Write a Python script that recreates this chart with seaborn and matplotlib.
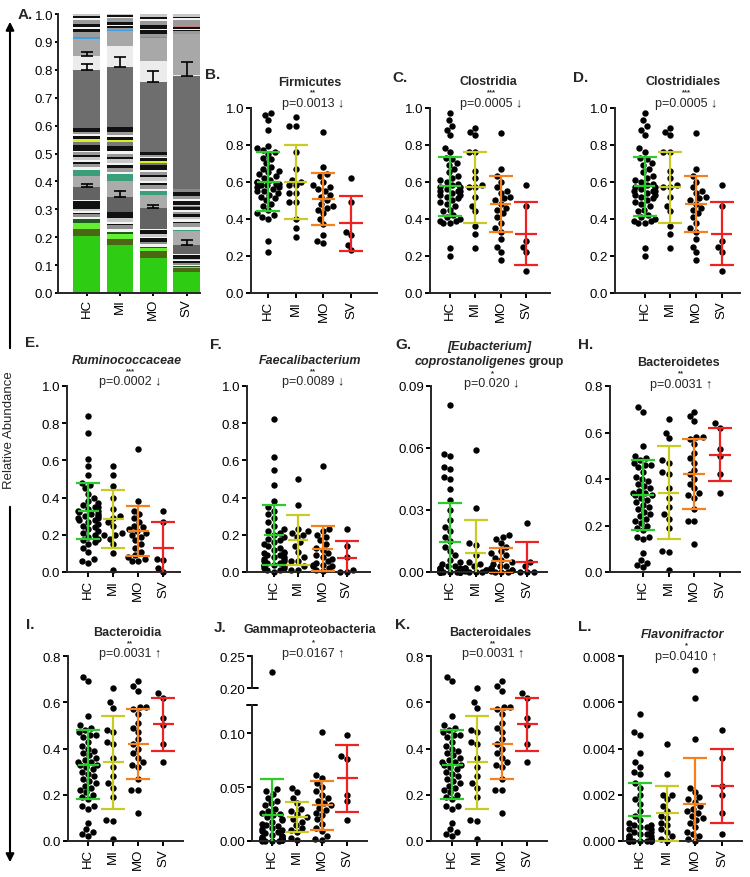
import matplotlib
matplotlib.use("Agg")
import matplotlib.pyplot as plt
import matplotlib.transforms as mtrans
from matplotlib.patches import FancyArrowPatch
from matplotlib.ticker import FormatStrFormatter
import numpy as np
import pandas as pd
import seaborn as sns

# ---------------- data ----------------
GROUPS = ["HC", "MI", "MO", "SV"]

# Panel A: stacked mean relative abundance (taxa bottom -> top)
A_COLORS = ["#2fcc14", "#4d6614", "#66ee33", "#1e5a1e",
            "#f4f4f4", "#8f8f8f", "#111111", "#f4f4f4", "#c8c8c8", "#111111", "#f4f4f4",
            "#636363", "#ababab", "#3a9e78",
            "#f4f4f4", "#9a9a9a", "#111111", "#f4f4f4", "#c8c8c8", "#111111", "#9a9a9a",
            "#f4f4f4", "#111111", "#7a7a7a",
            "#d8f022",
            "#111111", "#f4f4f4", "#9a9a9a", "#111111", "#8a8a8a",
            "#6e6e6e", "#ececec", "#a8a8a8", "#3d9ee0",
            "#9a9a9a", "#111111", "#f4f4f4", "#111111", "#c08080", "#9a9a9a",
            "#f4f4f4", "#111111", "#c8c8c8"]
A_HC = [0.203, 0.025, 0.024, 0.013,
        0.008, 0.010, 0.004, 0.006, 0.007, 0.030, 0.005,
        0.045, 0.040, 0.020,
        0.010, 0.012, 0.008, 0.006, 0.010, 0.010, 0.008, 0.006, 0.022, 0.008,
        0.012,
        0.012, 0.006, 0.006, 0.014, 0.000,
        0.210, 0.050, 0.060, 0.008,
        0.018, 0.012, 0.005, 0.010, 0.002, 0.015, 0.006, 0.006, 0.008]
A_MI = [0.172, 0.023, 0.015, 0.010,
        0.010, 0.012, 0.006, 0.008, 0.014, 0.020, 0.000,
        0.055, 0.055, 0.025,
        0.008, 0.015, 0.010, 0.008, 0.014, 0.008, 0.012, 0.008, 0.020, 0.012,
        0.010,
        0.010, 0.008, 0.010, 0.017, 0.000,
        0.215, 0.075, 0.055, 0.004,
        0.005, 0.008, 0.004, 0.012, 0.000, 0.012, 0.005, 0.005, 0.005]
A_MO = [0.125, 0.025, 0.010, 0.006,
        0.008, 0.010, 0.012, 0.006, 0.008, 0.015, 0.006,
        0.075, 0.045, 0.015,
        0.008, 0.014, 0.008, 0.006, 0.012, 0.010, 0.010, 0.006, 0.018, 0.008,
        0.008,
        0.010, 0.004, 0.006, 0.012, 0.000,
        0.249, 0.075, 0.085, 0.004,
        0.008, 0.015, 0.005, 0.012, 0.000, 0.015, 0.008, 0.008, 0.010]
A_SV = [0.075, 0.013, 0.006, 0.004,
        0.004, 0.006, 0.005, 0.004, 0.006, 0.012, 0.003,
        0.035, 0.050, 0.002,
        0.010, 0.015, 0.006, 0.008, 0.010, 0.008, 0.010, 0.006, 0.010, 0.005,
        0.003,
        0.012, 0.008, 0.012, 0.015, 0.010,
        0.405, 0.005, 0.147, 0.000,
        0.008, 0.006, 0.004, 0.004, 0.006, 0.020, 0.006, 0.006, 0.010]
A_ERR_TAXA = [11, 30, 31]
A_ERR_HC = [0.010, 0.020, 0.015]
A_ERR_MI = [0.020, 0.035, 0.000]
A_ERR_MO = [0.010, 0.040, 0.000]
A_ERR_SV = [0.017, 0.050, 0.000]

# B Firmicutes
FIRM_HC = [0.97, 0.96, 0.93, 0.88, 0.79, 0.78, 0.77, 0.76, 0.75, 0.73, 0.72, 0.70, 0.68, 0.67, 0.66,
           0.65, 0.64, 0.63, 0.62, 0.61, 0.60, 0.60, 0.59, 0.59, 0.58, 0.58, 0.57, 0.57, 0.56, 0.55,
           0.55, 0.54, 0.53, 0.52, 0.51, 0.50, 0.48, 0.47, 0.45, 0.43, 0.42, 0.41, 0.40, 0.28, 0.22]
FIRM_MI = [0.95, 0.90, 0.90, 0.76, 0.67, 0.61, 0.60, 0.58, 0.58, 0.54, 0.54, 0.49, 0.49, 0.40, 0.35, 0.30]
FIRM_MO = [0.87, 0.68, 0.64, 0.63, 0.60, 0.58, 0.57, 0.56, 0.55, 0.53, 0.52, 0.50, 0.48, 0.47, 0.46,
           0.45, 0.43, 0.40, 0.37, 0.31, 0.28, 0.27]
FIRM_SV = [0.62, 0.49, 0.33, 0.31, 0.26, 0.23]
FIRM_MEAN = [0.60, 0.60, 0.505, 0.375]
FIRM_SD = [0.16, 0.20, 0.14, 0.15]

# C Clostridia / D Clostridiales
CLOS_HC = [0.97, 0.93, 0.90, 0.88, 0.85, 0.78, 0.76, 0.73, 0.72, 0.70, 0.69, 0.67, 0.65, 0.63, 0.62,
           0.61, 0.60, 0.59, 0.58, 0.57, 0.57, 0.56, 0.55, 0.55, 0.54, 0.53, 0.52, 0.51, 0.50, 0.49,
           0.48, 0.47, 0.45, 0.44, 0.42, 0.41, 0.40, 0.39, 0.39, 0.38, 0.38, 0.24, 0.20, 0.55, 0.53]
CLOS_MI = [0.89, 0.87, 0.85, 0.76, 0.76, 0.66, 0.62, 0.58, 0.57, 0.57, 0.52, 0.47, 0.44, 0.36, 0.32, 0.24]
CLOS_MO = [0.86, 0.67, 0.63, 0.60, 0.57, 0.55, 0.54, 0.52, 0.51, 0.50, 0.48, 0.46, 0.45, 0.43, 0.41,
           0.38, 0.35, 0.33, 0.29, 0.25, 0.22, 0.18]
CLOS_SV = [0.58, 0.47, 0.28, 0.25, 0.22, 0.12]
CLOS_MEAN = [0.575, 0.57, 0.48, 0.32]
CLOS_SD = [0.16, 0.19, 0.15, 0.17]

# E Ruminococcaceae
RUMI_HC = [0.84, 0.75, 0.61, 0.57, 0.52, 0.48, 0.47, 0.45, 0.42, 0.40, 0.38, 0.37, 0.36, 0.35, 0.34,
           0.33, 0.33, 0.32, 0.31, 0.31, 0.30, 0.30, 0.29, 0.28, 0.28, 0.27, 0.26, 0.25, 0.24, 0.23,
           0.22, 0.21, 0.20, 0.19, 0.18, 0.17, 0.16, 0.15, 0.13, 0.11, 0.07, 0.06, 0.05, 0.35, 0.29]
RUMI_MI = [0.57, 0.52, 0.46, 0.40, 0.34, 0.30, 0.29, 0.27, 0.25, 0.21, 0.20, 0.20, 0.18, 0.15, 0.10, 0.01]
RUMI_MO = [0.66, 0.38, 0.33, 0.31, 0.29, 0.27, 0.25, 0.24, 0.23, 0.22, 0.21, 0.20, 0.19, 0.17, 0.15,
           0.13, 0.11, 0.09, 0.08, 0.07, 0.06, 0.06]
RUMI_SV = [0.33, 0.27, 0.07, 0.065, 0.02, 0.0]
RUMI_MEAN = [0.33, 0.285, 0.22, 0.13]
RUMI_SD = [0.15, 0.155, 0.135, 0.14]

# F Faecalibacterium
FAEC_HC = [0.82, 0.62, 0.55, 0.47, 0.38, 0.35, 0.33, 0.31, 0.29, 0.27, 0.25, 0.23, 0.22, 0.21, 0.20,
           0.19, 0.18, 0.17, 0.16, 0.15, 0.14, 0.13, 0.12, 0.11, 0.10, 0.10, 0.09, 0.09, 0.08, 0.08,
           0.07, 0.07, 0.06, 0.06, 0.05, 0.05, 0.04, 0.04, 0.03, 0.03, 0.02, 0.02, 0.01, 0.01, 0.0]
FAEC_MI = [0.50, 0.36, 0.23, 0.22, 0.21, 0.20, 0.19, 0.16, 0.14, 0.11, 0.08, 0.06, 0.06, 0.03, 0.01, 0.01]
FAEC_MO = [0.57, 0.23, 0.22, 0.20, 0.19, 0.17, 0.15, 0.13, 0.12, 0.10, 0.09, 0.08, 0.07, 0.06, 0.05,
           0.04, 0.04, 0.03, 0.03, 0.02, 0.01, 0.005]
FAEC_SV = [0.23, 0.14, 0.08, 0.01, 0.0, 0.0]
FAEC_MEAN = [0.20, 0.17, 0.125, 0.075]
FAEC_SD = [0.16, 0.135, 0.12, 0.09]

# G [Eubacterium] coprostanoligenes group
EUBA_HC = [0.081, 0.057, 0.056, 0.051, 0.050, 0.046, 0.045, 0.040, 0.035, 0.030, 0.025, 0.022, 0.020,
           0.017, 0.015, 0.012, 0.010, 0.008, 0.006, 0.005, 0.004, 0.003, 0.003, 0.002, 0.002, 0.002,
           0.001, 0.001, 0.001, 0.001, 0.0005, 0.0005, 0.0005, 0, 0, 0, 0, 0, 0, 0, 0, 0, 0, 0, 0]
EUBA_MI = [0.059, 0.031, 0.014, 0.013, 0.008, 0.005, 0.004, 0.003, 0.002, 0.002, 0.001, 0.001, 0.0005,
           0, 0, 0]
EUBA_MO = [0.018, 0.017, 0.016, 0.014, 0.012, 0.010, 0.009, 0.008, 0.007, 0.006, 0.005, 0.004, 0.003,
           0.003, 0.002, 0.002, 0.001, 0.001, 0.0005, 0, 0, 0]
EUBA_SV = [0.0235, 0.005, 0.003, 0.0, 0.0, 0.0]
EUBA_MEAN = [0.0145, 0.009, 0.0055, 0.005]
EUBA_SD = [0.019, 0.016, 0.006, 0.0095]

# H Bacteroidetes / I Bacteroidia / K Bacteroidales
BACT_HC = [0.71, 0.69, 0.54, 0.50, 0.49, 0.48, 0.47, 0.46, 0.46, 0.45, 0.43, 0.41, 0.40, 0.39, 0.38,
           0.37, 0.36, 0.35, 0.34, 0.34, 0.33, 0.33, 0.32, 0.31, 0.30, 0.29, 0.28, 0.27, 0.25, 0.24,
           0.23, 0.22, 0.21, 0.20, 0.19, 0.18, 0.15, 0.15, 0.14, 0.08, 0.05, 0.04, 0.03, 0.02, 0.26]
BACT_MI = [0.66, 0.60, 0.575, 0.48, 0.47, 0.43, 0.42, 0.36, 0.32, 0.28, 0.25, 0.23, 0.19, 0.09, 0.085, 0.01]
BACT_MO = [0.69, 0.67, 0.65, 0.58, 0.58, 0.57, 0.55, 0.51, 0.49, 0.47, 0.44, 0.42, 0.40, 0.38, 0.36,
           0.34, 0.33, 0.32, 0.27, 0.22, 0.22, 0.12]
BACT_SV = [0.64, 0.62, 0.53, 0.50, 0.42, 0.34]
BACT_MEAN = [0.33, 0.34, 0.42, 0.505]
BACT_SD = [0.15, 0.20, 0.15, 0.115]

# J Gammaproteobacteria
GAMM_HC = [0.225, 0.048, 0.046, 0.044, 0.040, 0.037, 0.035, 0.033, 0.030, 0.028, 0.026, 0.025, 0.024,
           0.022, 0.020, 0.019, 0.018, 0.016, 0.015, 0.014, 0.012, 0.011, 0.010, 0.009, 0.008, 0.007,
           0.006, 0.005, 0.005, 0.004, 0.003, 0.003, 0.002, 0.002, 0.002, 0.001, 0.001, 0.001, 0.001,
           0.0005, 0.0005, 0.0, 0.0, 0.0, 0.0]
GAMM_MI = [0.049, 0.045, 0.040, 0.035, 0.030, 0.028, 0.025, 0.022, 0.020, 0.018, 0.015, 0.012, 0.010,
           0.008, 0.003, 0.001]
GAMM_MO = [0.101, 0.061, 0.058, 0.054, 0.050, 0.046, 0.043, 0.040, 0.037, 0.035, 0.033, 0.031, 0.029,
           0.026, 0.024, 0.020, 0.016, 0.012, 0.009, 0.005, 0.002, 0.001]
GAMM_SV = [0.098, 0.079, 0.076, 0.043, 0.037, 0.019]
GAMM_MEAN = [0.024, 0.022, 0.033, 0.058]
GAMM_SD = [0.033, 0.014, 0.023, 0.031]

# L Flavonifractor
FLAV_HC = [0.0055, 0.0047, 0.0046, 0.0038, 0.0034, 0.0032, 0.0030, 0.0029, 0.0025, 0.0023, 0.0020,
           0.0018, 0.0016, 0.0013, 0.0011, 0.0009, 0.0008, 0.0007, 0.0007, 0.0006, 0.0006, 0.0005,
           0.0005, 0.0004, 0.0004, 0.0003, 0.0003, 0.0002, 0.0002, 0.0002, 0.0001, 0.0001, 0.0001,
           0.0001, 0.00005, 0.00005, 0, 0, 0, 0, 0, 0, 0, 0, 0]
FLAV_MI = [0.0042, 0.0029, 0.0020, 0.0020, 0.0018, 0.0015, 0.0013, 0.0011, 0.0010, 0.0008, 0.0007,
           0.0005, 0.0004, 0.0002, 0.0001, 0.0]
FLAV_MO = [0.0074, 0.0062, 0.0044, 0.0023, 0.0021, 0.0019, 0.0018, 0.0017, 0.0015, 0.0014, 0.0013,
           0.0012, 0.0011, 0.0010, 0.0009, 0.0008, 0.0006, 0.0004, 0.0003, 0.0002, 0.0001, 0.0]
FLAV_SV = [0.0048, 0.0036, 0.0024, 0.0020, 0.0012, 0.0003]
FLAV_MEAN = [0.0011, 0.0012, 0.0016, 0.0024]
FLAV_SD = [0.0014, 0.0012, 0.0020, 0.0016]

# ---------------- style / layout ----------------
W, H = 750, 878
GROUP_COLORS = ["#2ccb2c", "#c8cc22", "#f5801e", "#ee2222"]
sns.set_style("ticks")
plt.rcParams["font.family"] = ["Liberation Sans", "DejaVu Sans"]
plt.rcParams["axes.linewidth"] = 1.4

fig = plt.figure(figsize=(W / 100, H / 100), dpi=100)


def add_ax(left, top, right, bottom):
    return fig.add_axes([left / W, 1 - bottom / H, (right - left) / W, (bottom - top) / H])


def ftext(x, y, s, **kw):
    return fig.text(x / W, 1 - y / H, s, **kw)


def style_ax(ax, yticks, fmt, xlim, tlen=3.5, tpad=1.5):
    sns.despine(ax=ax)
    ax.set_xlim(*xlim)
    ax.set_yticks(yticks)
    ax.set_ylim(yticks[0], yticks[-1])
    ax.yaxis.set_major_formatter(FormatStrFormatter(fmt))
    ax.set_xticks(range(4))
    ax.set_xticklabels(GROUPS, rotation=90)
    ax.set_xlabel("")
    ax.set_ylabel("")
    ax.tick_params(width=1.4, length=tlen, labelsize=9.5, pad=tpad, colors="black")
    for sp in ax.spines.values():
        sp.set_linewidth(1.4)


def swarm_panel(ax, series, mean, sd, yticks, fmt, xlim, clip_ext=True, bars=True):
    df = pd.DataFrame({"group": np.repeat(GROUPS, [len(s) for s in series]),
                       "value": np.concatenate([np.asarray(s, float) for s in series])})
    style_ax(ax, yticks, fmt, xlim)
    sns.swarmplot(data=df, x="group", y="value", order=GROUPS, color="black", size=4.6,
                  ax=ax, warn_thresh=1, zorder=2, linewidth=0)
    ax.set_xlim(*xlim)
    ax.set_ylim(yticks[0], yticks[-1])
    ax.set_xlabel("")
    ax.set_ylabel("")
    if clip_ext:
        box = mtrans.TransformedBbox(mtrans.Bbox([[-0.2, -0.06], [1.2, 1.0]]), ax.transAxes)
        for c in ax.collections:
            c.set_clip_box(box)
    if bars:
        for i in range(4):
            ax.errorbar(i, mean[i], yerr=sd[i], fmt="none", ecolor=GROUP_COLORS[i],
                        elinewidth=1.6, capsize=8.5, capthick=1.6, zorder=4)
            ax.hlines(mean[i], i - 0.42, i + 0.42, color=GROUP_COLORS[i], lw=1.6, zorder=4)


# ---- Panel A ----
axA = add_ax(58, 15, 200, 294)
pos = np.arange(4)
stack = np.array([A_HC, A_MI, A_MO, A_SV])  # groups x taxa
bottom = np.zeros(4)
tops = []
for t, col in enumerate(A_COLORS):
    axA.bar(pos, stack[:, t], bottom=bottom, width=0.8, color=col, linewidth=0, zorder=2)
    bottom = bottom + stack[:, t]
    tops.append(bottom.copy())
errs = np.array([A_ERR_HC, A_ERR_MI, A_ERR_MO, A_ERR_SV])
for k, t in enumerate(A_ERR_TAXA):
    top = tops[t]
    e = errs[:, k]
    m = e > 0
    axA.errorbar(pos[m], top[m], yerr=[np.zeros(m.sum()), e[m]], fmt="none", ecolor="black",
                 elinewidth=1.2, capsize=4, capthick=1.2, zorder=3)
style_ax(axA, [0.0, 0.1, 0.2, 0.3, 0.4, 0.5, 0.6, 0.7, 0.8, 0.9, 1.0], "%.1f", (-0.86, 3.4),
         tlen=2.5, tpad=1.0)

# ---- swarm panels ----
Y10 = [0.0, 0.2, 0.4, 0.6, 0.8, 1.0]
Y08 = [0.0, 0.2, 0.4, 0.6, 0.8]

axB = add_ax(251, 108.5, 377, 294)
swarm_panel(axB, [FIRM_HC, FIRM_MI, FIRM_MO, FIRM_SV], FIRM_MEAN, FIRM_SD, Y10, "%.1f", (-0.62, 3.94))
axC = add_ax(430, 108.5, 550, 294)
swarm_panel(axC, [CLOS_HC, CLOS_MI, CLOS_MO, CLOS_SV], CLOS_MEAN, CLOS_SD, Y10, "%.1f", (-0.79, 3.95))
axD = add_ax(615, 108.5, 740, 294)
swarm_panel(axD, [CLOS_HC, CLOS_MI, CLOS_MO, CLOS_SV], CLOS_MEAN, CLOS_SD, Y10, "%.1f", (-1.15, 3.72))

axE = add_ax(67, 387, 180, 573)
swarm_panel(axE, [RUMI_HC, RUMI_MI, RUMI_MO, RUMI_SV], RUMI_MEAN, RUMI_SD, Y10, "%.1f", (-0.84, 3.66))
axF = add_ax(247, 387, 370, 573)
swarm_panel(axF, [FAEC_HC, FAEC_MI, FAEC_MO, FAEC_SV], FAEC_MEAN, FAEC_SD, Y10, "%.1f", (-1.1, 3.95))
axG = add_ax(431, 387, 547, 573)
swarm_panel(axG, [EUBA_HC, EUBA_MI, EUBA_MO, EUBA_SV], EUBA_MEAN, EUBA_SD,
            [0.0, 0.03, 0.06, 0.09], "%.2f", (-0.74, 3.78))
axH = add_ax(610, 387, 740, 573)
swarm_panel(axH, [BACT_HC, BACT_MI, BACT_MO, BACT_SV], BACT_MEAN, BACT_SD, Y08, "%.1f", (-1.28, 3.78))

axI = add_ax(68, 657, 183, 842)
swarm_panel(axI, [BACT_HC, BACT_MI, BACT_MO, BACT_SV], BACT_MEAN, BACT_SD, Y08, "%.1f", (-0.8, 3.8))
axK = add_ax(431, 657, 547, 842)
swarm_panel(axK, [BACT_HC, BACT_MI, BACT_MO, BACT_SV], BACT_MEAN, BACT_SD, Y08, "%.1f", (-0.84, 3.8))
axL = add_ax(623, 657, 742, 842)
swarm_panel(axL, [FLAV_HC, FLAV_MI, FLAV_MO, FLAV_SV], FLAV_MEAN, FLAV_SD,
            [0.0, 0.002, 0.004, 0.006, 0.008], "%.3f", (-0.62, 3.73))

# J with broken axis
axJ = add_ax(252, 706, 367, 842)
axJ.set_ylim(0, 0.126)
swarm_panel(axJ, [GAMM_HC, GAMM_MI, GAMM_MO, GAMM_SV], GAMM_MEAN, GAMM_SD,
            [0.0, 0.05, 0.10], "%.2f", (-0.8, 3.8))
axJ.set_ylim(0, 0.126)
axJ.plot([-0.045, 0.045], [1, 1], transform=axJ.transAxes, color="black", lw=1.4, clip_on=False)
axJu = add_ax(252, 657, 367, 689)
swarm_panel(axJu, [GAMM_HC, GAMM_MI, GAMM_MO, GAMM_SV], GAMM_MEAN, GAMM_SD,
            [0.20, 0.25], "%.2f", (-0.8, 3.8), clip_ext=False, bars=False)
axJu.spines["bottom"].set_visible(False)
axJu.set_xticks([])
axJu.plot([0, 0.05], [0.20, 0.20], transform=axJu.get_yaxis_transform(), color="black",
          lw=1.4, clip_on=False)

# ---------------- texts ----------------
LBL = dict(fontsize=11, fontweight="bold", va="center", ha="left")
for s, x, y in [("A.", 18, 15), ("B.", 205, 75), ("C.", 392, 78), ("D.", 573, 78),
                ("E.", 25, 343), ("F.", 210, 345), ("G.", 395, 345), ("H.", 578, 345),
                ("I.", 26, 625), ("J.", 214, 628), ("K.", 395, 625), ("L.", 578, 627)]:
    ftext(x, y, s, **LBL)

TT = dict(fontsize=9, fontweight="bold", ha="center", va="center")
PT = dict(fontsize=9, ha="center", va="center")
ST = dict(fontsize=5.5, fontweight="bold", ha="center", va="center")
titles = [
    ("Firmicutes", "normal", 310, 82.5, "**", 93, "p=0.0013 \u2193", 103.5),
    ("Clostridia", "normal", 488, 82, "***", 92.5, "p=0.0005 \u2193", 103.5),
    ("Clostridiales", "normal", 683, 82, "***", 92.5, "p=0.0005 \u2193", 103.5),
    ("Ruminococcaceae", "italic", 127, 360.5, "***", 371.5, "p=0.0002 \u2193", 382),
    ("Faecalibacterium", "italic", 310, 360.5, "**", 371.5, "p=0.0089 \u2193", 382),
    ("Bacteroidetes", "normal", 678, 363, "**", 374, "p=0.0031 \u2191", 385),
    ("Bacteroidia", "normal", 127, 633, "**", 643.5, "p=0.0031 \u2191", 654),
    ("Gammaproteobacteria", "normal", 310, 630, "*", 643, "p=0.0167 \u2191", 654),
    ("Bacteroidales", "normal", 490, 633, "**", 643.5, "p=0.0031 \u2191", 654),
    ("Flavonifractor", "italic", 683, 635, "*", 646, "p=0.0410 \u2191", 657),
]
for t, style, x, y, star, ys, p, yp in titles:
    ftext(x, y, t, style=style, **TT)
    ftext(x + 3, ys, star, **ST)
    ftext(x + 3, yp, p, **PT)

# G: two-line title with mixed italic / regular
ftext(489, 347, "[Eubacterium]", style="italic", **TT)
renderer = fig.canvas.get_renderer()
tg1 = ftext(0, 362, "coprostanoligenes", style="italic", ha="left", va="center",
            fontsize=9, fontweight="bold")
tg2 = ftext(0, 362, "group", ha="left", va="center", fontsize=9, fontweight="bold")
w1 = tg1.get_window_extent(renderer).width
w2 = tg2.get_window_extent(renderer).width
gap = 3.0
start = 489 - (w1 + gap + w2) / 2
tg1.set_x(start / W)
tg2.set_x((start + w1 + gap) / W)
ftext(492, 373.5, "*", **ST)
ftext(492, 384, "p=0.020 \u2193", **PT)

ftext(9, 430, "Relative Abundance", rotation=90, fontsize=9.5, ha="center", va="center")
fig.add_artist(FancyArrowPatch((10 / W, 1 - 352 / H), (10 / W, 1 - 20 / H), transform=fig.transFigure,
                               arrowstyle="-|>", mutation_scale=12, lw=1.5, color="black"))
fig.add_artist(FancyArrowPatch((10 / W, 1 - 505 / H), (10 / W, 1 - 866 / H), transform=fig.transFigure,
                               arrowstyle="-|>", mutation_scale=12, lw=1.5, color="black"))

fig.savefig("out.png", dpi=100, facecolor="white")
